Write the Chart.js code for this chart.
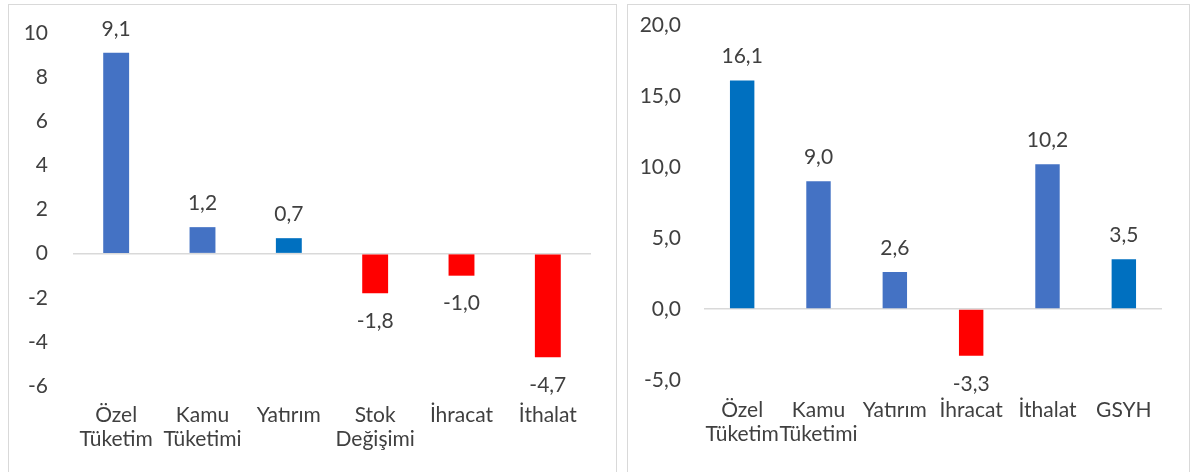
<!DOCTYPE html>
<html><head><meta charset="utf-8">
<script src="https://cdn.jsdelivr.net/npm/chart.js@4/dist/chart.umd.min.js"></script>
<style>
html,body{margin:0;padding:0;background:#fff;width:1198px;height:472px;overflow:hidden;}
.panel{position:absolute;border:1px solid #d9d9d9;box-sizing:border-box;background:#fff;}
#p1{left:8px;top:4px;width:609px;height:480px;}
#p2{left:627px;top:4px;width:563px;height:480px;}
canvas{position:absolute;left:0;top:0;}
</style></head><body>
<div class="panel" id="p1"><canvas id="c1"></canvas></div>
<div class="panel" id="p2"><canvas id="c2"></canvas></div>
<script>
const leftCategories = [['Özel','Tüketim'],['Kamu','Tüketimi'],['Yatırım'],['Stok','Değişimi'],['İhracat'],['İthalat']];
const leftValues = [9.1, 1.2, 0.7, -1.8, -1.0, -4.7];
const leftColors = ['#4472C4','#4472C4','#0070C0','#FF0000','#FF0000','#FF0000'];
const leftTicks = {min:-6, max:10, step:2};

const rightCategories = [['Özel','Tüketim'],['Kamu','Tüketimi'],['Yatırım'],['İhracat'],['İthalat'],['GSYH']];
const rightValues = [16.1, 9.0, 2.6, -3.3, 10.2, 3.5];
const rightColors = ['#0070C0','#4472C4','#4472C4','#FF0000','#4472C4','#0070C0'];
const rightTicks = {min:-5, max:20, step:5};

const FONT = 'Lato';
const FS = 21;
const TXT = '#404040';
const fmt = v => v.toFixed(1).replace('.', ',');

const valueLabels = {
  id:'valueLabels',
  afterDatasetsDraw(chart){
    const ctx = chart.ctx;
    const meta = chart.getDatasetMeta(0);
    const data = chart.data.datasets[0].data;
    ctx.save();
    ctx.font = FS + 'px ' + FONT;
    ctx.fillStyle = TXT;
    ctx.textAlign = 'center';
    ctx.textBaseline = 'middle';
    meta.data.forEach((bar, i) => {
      const v = data[i];
      const y = v >= 0 ? bar.y - 24 : bar.y + 28;
      ctx.fillText(fmt(v), bar.x, y);
    });
    ctx.restore();
  }
};

function makeChart(id, w, h, cats, vals, cols, tk, opts){
  const cv = document.getElementById(id);
  cv.width = w; cv.height = h;
  cv.style.width = w + 'px'; cv.style.height = h + 'px';
  return new Chart(cv, {
    type:'bar',
    data:{labels:cats, datasets:[{data:vals, backgroundColor:cols, borderWidth:0,
      barPercentage:opts.barPct, categoryPercentage:1}]},
    options:{
      responsive:false, animation:false, devicePixelRatio:1,
      layout:{padding:{top:opts.top, right:opts.right, left:0, bottom:0}},
      plugins:{legend:{display:false}, tooltip:{enabled:false}},
      scales:{
        x:{
          grid:{display:false, drawTicks:false},
          border:{display:false},
          ticks:{color:TXT, font:{family:FONT, size:FS, lineHeight:1.15}, padding:opts.xpad, maxRotation:0, autoSkip:false},
          afterFit(s){ s.height = opts.xh; }
        },
        y:{
          min:tk.min, max:tk.max,
          grid:{drawTicks:false, lineWidth:1.5, color:c => c.tick && c.tick.value === 0 ? '#d9d9d9' : 'rgba(0,0,0,0)'},
          border:{display:false},
          ticks:{stepSize:tk.step, color:TXT, font:{family:FONT, size:FS}, padding:opts.ypad,
            callback:opts.tickFmt},
          afterFit(s){ s.width = opts.yw; s.paddingTop = 0; s.paddingBottom = 0; }
        }
      }
    },
    plugins:[valueLabels]
  });
}

makeChart('c1', 607, 468, leftCategories, leftValues, leftColors, leftTicks,
  {barPct:0.30, top:28, right:25, xh:87, xpad:17, yw:64, ypad:25, tickFmt:v => String(v).replace('.', ',')});
makeChart('c2', 561, 468, rightCategories, rightValues, rightColors, rightTicks,
  {barPct:0.32, top:20, right:27, xh:93, xpad:18, yw:76, ypad:23, tickFmt:v => fmt(v)});
</script>
</body></html>
